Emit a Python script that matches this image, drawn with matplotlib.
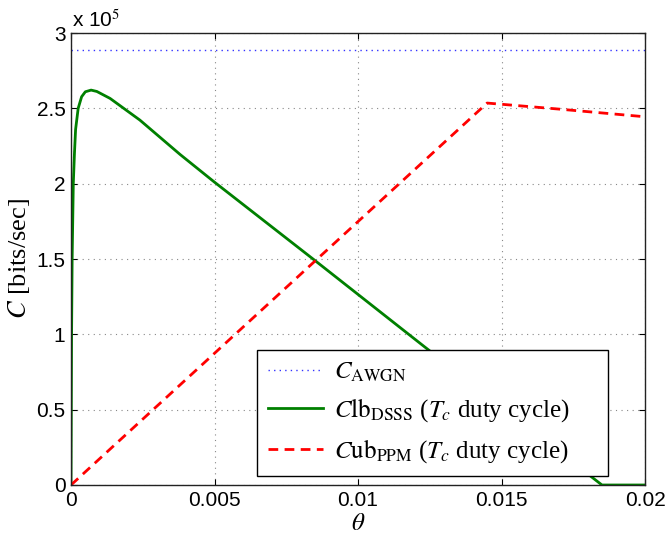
import matplotlib
matplotlib.use("Agg")
import matplotlib.pyplot as plt

plt.rcParams['mathtext.fontset'] = 'stix'

# Data (theta, capacity in units of 1e5 bits/sec)
theta_awgn = [0.0, 0.02]
c_awgn = [2.886, 2.886]

theta_dsss = [0.0, 0.00002, 0.00004, 0.00008, 0.00012, 0.00016, 0.00025, 0.00037,
              0.0005, 0.0007, 0.0009, 0.00136, 0.0024, 0.0038, 0.005, 0.0085,
              0.0123, 0.0185, 0.02]
c_dsss = [0.0, 1.0, 1.5, 2.0, 2.2, 2.36, 2.5, 2.577,
          2.61, 2.621, 2.612, 2.566, 2.422, 2.194, 2.01, 1.49,
          0.92, 0.0, 0.0]

theta_ppm = [0.0, 0.0145, 0.017, 0.02]
c_ppm = [0.0, 2.535, 2.495, 2.444]

xticks = [0, 0.005, 0.01, 0.015, 0.02]
xticklabels = ['0', '0.005', '0.01', '0.015', '0.02']
yticks = [0, 0.5, 1, 1.5, 2, 2.5, 3]
yticklabels = ['0', '0.5', '1', '1.5', '2', '2.5', '3']

fig = plt.figure(figsize=(6.68, 5.39), dpi=100)
ax = fig.add_axes([71/668, 54/539, 574/668, 452/539])

ax.plot(theta_awgn, c_awgn, color='#3333ff', linestyle=(0, (1, 3)), lw=1.0,
        label=r'$C_{\mathrm{AWGN}}$')
ax.plot(theta_dsss, c_dsss, color='#008000', lw=2.0,
        label=r'$C\mathrm{lb}_{\mathrm{DSSS}}$ ($T_c$ duty cycle)')
ax.plot(theta_ppm, c_ppm, color='#ff0000', lw=2.0, linestyle=(0, (3.5, 2.3)),
        label=r'$C\mathrm{ub}_{\mathrm{PPM}}$ ($T_c$ duty cycle)')

ax.set_xlim(0, 0.02)
ax.set_ylim(0, 3)
ax.set_xticks(xticks)
ax.set_xticklabels(xticklabels)
ax.set_yticks(yticks)
ax.set_yticklabels(yticklabels)
for lab in ax.get_xticklabels() + ax.get_yticklabels():
    lab.set_fontfamily('Liberation Sans')
    lab.set_fontsize(15)
ax.tick_params(direction='in', top=True, right=True, length=4, width=0.8, pad=4)
ax.grid(True, color='#888888', linestyle=(0, (1, 4)), lw=0.8)
for s in ax.spines.values():
    s.set_linewidth(1.0)
    s.set_color('#222222')

ax.set_xlabel(r'$\theta$', fontsize=18, labelpad=1)
ax.set_ylabel(r'$C$ [bits/sec]', fontsize=19, family='Liberation Serif', labelpad=3)

fig.text(72/668, 1 - 20/539, r'x 10$^{5}$', fontsize=15, family='Liberation Sans',
         va='center', ha='left')

leg = ax.legend(loc='lower left', bbox_to_anchor=(186/574, 9/452, 351/574, 0.2),
                mode='expand', borderaxespad=0,
                prop={'family': 'Liberation Serif', 'size': 18},
                frameon=True, fancybox=False, edgecolor='black', framealpha=1,
                handlelength=2.2, handletextpad=0.45, labelspacing=0.5,
                borderpad=0.45)
leg.get_frame().set_linewidth(1.0)

fig.savefig('out.png', dpi=100)
